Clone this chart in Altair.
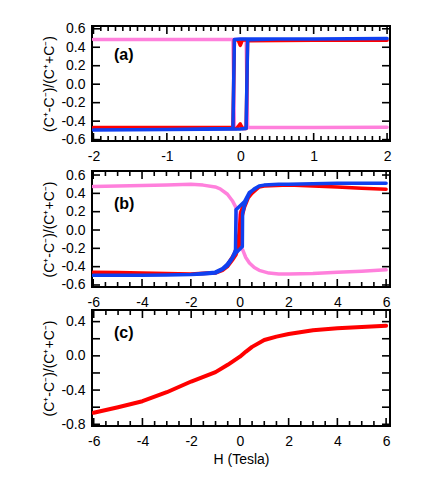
import altair as alt
import pandas as pd

FONT = "Liberation Sans"
PINK = "#ff80dc"
RED = "#ff0000"
BLUE = "#1040f0"
YTITLE = "(C\u207a-C\u207b)/(C\u207a+C\u207b)"

# ---------------- Panel (a) ----------------
a_pink_H = [-2.0, -1.0, 0.0, 0.08, 0.1, 1.0, 2.0, 2.0, 1.0, 0.0, -0.08, -0.1, -1.0, -2.0]
a_pink_v = [0.485, 0.485, 0.485, 0.485, -0.47, -0.468, -0.465, -0.465, -0.468, -0.47, -0.47, 0.485, 0.485, 0.485]

a_red_H = [-2.0, -1.0, -0.05, 0.0, 0.03, 0.08, 0.1, 1.0, 2.0,
           2.0, 1.0, 0.03, 0.0, -0.03, -0.08, -0.1, -1.0, -2.0]
a_red_v = [-0.47, -0.475, -0.48, -0.43, -0.48, -0.48, 0.47, 0.475, 0.475,
           0.475, 0.475, 0.48, 0.42, 0.48, 0.48, -0.47, -0.47, -0.47]

a_blue_H = [-2.0, -1.0, 0.0, 0.08, 0.1, 0.5, 1.0, 2.0,
            2.0, 1.0, 0.0, -0.08, -0.1, -1.0, -2.0]
a_blue_v = [-0.495, -0.49, -0.485, -0.48, 0.48, 0.49, 0.49, 0.495,
            0.495, 0.49, 0.49, 0.485, -0.48, -0.49, -0.495]

# ---------------- Panel (b) ----------------
b_pink_H = [-6.0, -5.0, -4.0, -3.0, -2.0, -1.5, -1.0, -0.8, -0.5, -0.3, -0.16, -0.05, 0.0, 0.1,
            0.25, 0.4, 0.6, 0.8, 1.2, 1.6, 2.0, 3.0, 4.0, 5.0, 6.0]
b_pink_v = [0.475, 0.48, 0.485, 0.49, 0.5, 0.49, 0.47, 0.45, 0.39, 0.32, 0.25, 0.1, -0.02, -0.2,
            -0.3, -0.36, -0.41, -0.44, -0.47, -0.48, -0.48, -0.475, -0.46, -0.45, -0.435]

b_red_H = [-6.0, -5.0, -4.0, -3.0, -2.0, -1.5, -1.0, -0.7, -0.5, -0.3, -0.15, 0.0, 0.05, 0.1, 0.2,
           0.4, 0.6, 0.8, 1.0, 1.5, 2.0, 3.0, 4.0, 5.0, 6.0,
           6.0, 5.0, 4.0, 3.0, 2.0, 1.0, 0.8, 0.5, 0.2, 0.05, 0.0, -0.05, -0.2, -0.5, -0.7,
           -1.0, -2.0, -3.0, -4.0, -5.0, -6.0]
b_red_v = [-0.46, -0.465, -0.47, -0.475, -0.48, -0.475, -0.47, -0.44, -0.4, -0.33, -0.27, -0.15, 0.0, 0.15, 0.25,
           0.38, 0.44, 0.47, 0.48, 0.49, 0.49, 0.48, 0.47, 0.455, 0.445,
           0.445, 0.455, 0.47, 0.48, 0.49, 0.48, 0.47, 0.4, 0.3, 0.2, 0.05, -0.1, -0.25, -0.38, -0.43,
           -0.465, -0.48, -0.475, -0.47, -0.465, -0.46]

b_blue_H = [-6.0, -5.0, -4.0, -3.0, -2.0, -1.5, -1.0, -0.7, -0.5, -0.3, -0.16, 0.0, 0.11, 0.12, 0.2,
            0.4, 0.6, 0.8, 1.0, 1.6, 2.0, 3.0, 4.0, 5.0, 6.0,
            6.0, 5.0, 4.0, 3.0, 2.0, 1.6, 1.0, 0.8, 0.4, 0.2, 0.0, -0.15, -0.17, -0.3, -0.5,
            -0.7, -1.0, -2.0, -3.0, -4.0, -5.0, -6.0]
b_blue_v = [-0.495, -0.495, -0.495, -0.49, -0.485, -0.48, -0.47, -0.43, -0.39, -0.31, -0.25, -0.21, -0.18, 0.18, 0.27,
            0.4, 0.45, 0.48, 0.49, 0.5, 0.5, 0.505, 0.51, 0.51, 0.51,
            0.51, 0.51, 0.51, 0.505, 0.5, 0.5, 0.49, 0.48, 0.41, 0.31, 0.26, 0.22, -0.22, -0.3, -0.37,
            -0.42, -0.46, -0.485, -0.49, -0.495, -0.495, -0.495]

# ---------------- Panel (c) ----------------
c_red_H = [-6.0, -5.0, -4.0, -3.0, -2.0, -1.0, -0.5, 0.0, 0.25, 0.5, 1.0, 1.5, 2.0, 3.0, 4.0, 5.0, 6.0]
c_red_v = [-0.665, -0.6, -0.53, -0.425, -0.3, -0.19, -0.105, -0.01, 0.05, 0.105, 0.185, 0.225, 0.255, 0.3, 0.322, 0.338, 0.353]

# ---------------- ticks / labels ----------------
a_xlabels = [-2, -1, 0, 1, 2]
a_xminor = [round(-2 + 0.1 * k, 1) for k in range(41) if k % 10 != 0]
bc_xlabels = [-6, -4, -2, 0, 2, 4, 6]
bc_xminor = [-6 + 0.5 * k for k in range(25) if k % 4 != 0]
ab_yticks = [-0.6, -0.4, -0.2, 0.0, 0.2, 0.4, 0.6]
c_yticks = [-0.8, -0.6, -0.4, -0.2, 0.0, 0.2, 0.4]
c_ylabels = [-0.8, -0.4, 0.0, 0.4]

MAJOR_LEN = 8
MINOR_LEN = 5
TICK_W = 1.6


def sdf(H, v):
    return pd.DataFrame({"H": H, "v": v, "i": list(range(len(H)))})


def fmt(spec):
    return "replace(format(datum.value, '" + spec + "'), '\u2212', '-')"


def panel(series, xdom, ydom, xmajor, xminor, yticks, ylabels, label, label_y,
          width, height, xtitle=None):
    xs = alt.Scale(domain=xdom, nice=False, zero=False)
    ys = alt.Scale(domain=ydom, nice=False, zero=False)
    label_x_axis = alt.Axis(orient="bottom", values=xmajor, ticks=False, tickSize=0, domain=False,
                            grid=False, labelPadding=8, labelExpr=fmt("d"), title=xtitle,
                            titlePadding=4)
    label_y_axis = alt.Axis(orient="left", values=ylabels, ticks=False, tickSize=0, domain=False,
                            grid=False, labelPadding=7, labelExpr=fmt(".1f"), title=YTITLE,
                            titlePadding=4)
    layers = []
    for k, (df, color, sw) in enumerate(series):
        enc_x = alt.X("H:Q", scale=xs, axis=label_x_axis if k == 0 else None)
        enc_y = alt.Y("v:Q", scale=ys, axis=label_y_axis if k == 0 else None)
        layers.append(alt.Chart(df).mark_line(
            color=color, strokeWidth=sw, strokeCap="round", strokeJoin="round", clip=True
        ).encode(x=enc_x, y=enc_y, order="i:Q"))

    xmaj = pd.DataFrame({"val": list(xmajor)})
    xmin = pd.DataFrame({"val": list(xminor)})
    yt = pd.DataFrame({"val": list(yticks)})
    # inward ticks on bottom and top edges
    for tdf, ln in ((xmaj, MAJOR_LEN), (xmin, MINOR_LEN)):
        layers.append(alt.Chart(tdf).mark_rule(color="black", strokeWidth=TICK_W).encode(
            x=alt.X("val:Q", scale=xs, axis=None),
            y=alt.value(height), y2=alt.value(height - ln)))
        layers.append(alt.Chart(tdf).mark_rule(color="black", strokeWidth=TICK_W).encode(
            x=alt.X("val:Q", scale=xs, axis=None),
            y=alt.value(0), y2=alt.value(ln)))
    # inward ticks on left and right edges
    layers.append(alt.Chart(yt).mark_rule(color="black", strokeWidth=TICK_W).encode(
        y=alt.Y("val:Q", scale=ys, axis=None),
        x=alt.value(0), x2=alt.value(MAJOR_LEN)))
    layers.append(alt.Chart(yt).mark_rule(color="black", strokeWidth=TICK_W).encode(
        y=alt.Y("val:Q", scale=ys, axis=None),
        x=alt.value(width), x2=alt.value(width - MAJOR_LEN)))

    txt = alt.Chart(pd.DataFrame({"t": [label]})).mark_text(
        align="left", baseline="middle", fontSize=16, fontWeight="bold", font=FONT, color="black"
    ).encode(x=alt.value(22), y=alt.value(label_y), text="t:N")
    layers.append(txt)
    return alt.layer(*layers).resolve_axis(x="independent", y="independent").properties(
        width=width, height=height)


pa = panel([(sdf(a_pink_H, a_pink_v), PINK, 3.5), (sdf(a_red_H, a_red_v), RED, 3.5),
            (sdf(a_blue_H, a_blue_v), BLUE, 3.5)],
           [-2.02, 2.04], [-0.615, 0.63], a_xlabels, a_xminor,
           ab_yticks, ab_yticks, "(a)", 29, 298, 115)
pb = panel([(sdf(b_pink_H, b_pink_v), PINK, 3.5), (sdf(b_red_H, b_red_v), RED, 3.5),
            (sdf(b_blue_H, b_blue_v), BLUE, 3.5)],
           [-6.05, 6.16], [-0.622, 0.644], bc_xlabels, bc_xminor,
           ab_yticks, ab_yticks, "(b)", 33, 298, 116)
pc = panel([(sdf(c_red_H, c_red_v), RED, 4.0)],
           [-6.07, 6.16], [-0.82, 0.536], bc_xlabels, bc_xminor,
           c_yticks, c_ylabels, "(c)", 23, 298, 116, xtitle="H (Tesla)")

chart = alt.vconcat(alt.vconcat(pa, pb, spacing=3), pc, spacing=-3).properties(
    padding={"left": 33, "top": 12, "right": 5, "bottom": 5}
).configure(font=FONT).configure_view(
    stroke="black", strokeWidth=2
).configure_axis(
    labelFont=FONT, labelFontSize=14, labelColor="black",
    titleFont=FONT, titleFontSize=14, titleColor="black", titleFontWeight="normal"
)

chart.save("out.html", embed_options={"renderer": "svg", "actions": False})
